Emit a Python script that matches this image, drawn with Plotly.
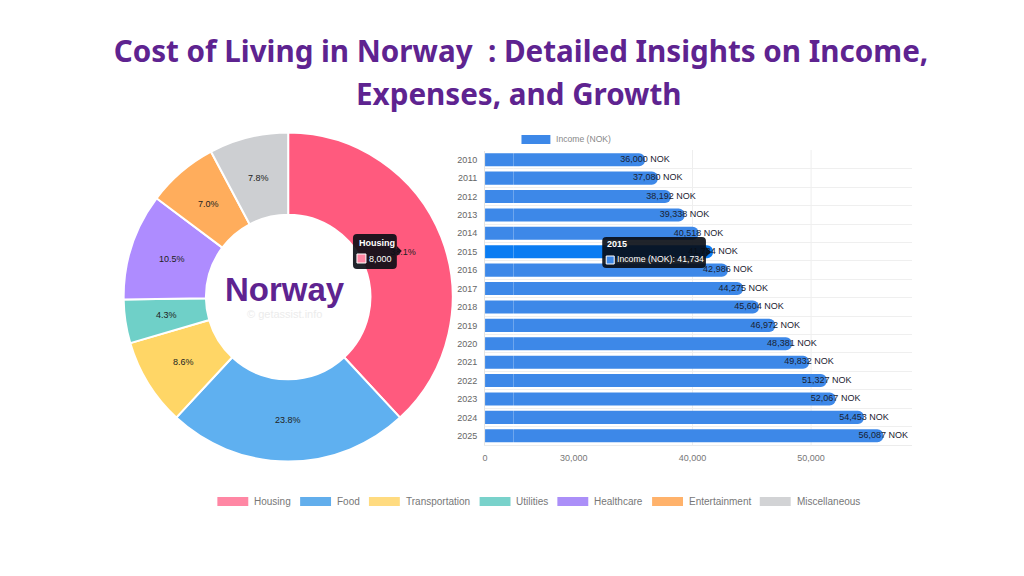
import math

import plotly.graph_objects as go

categories = ["Housing", "Food", "Transportation", "Utilities", "Healthcare", "Entertainment", "Miscellaneous"]
amounts = [8000, 5000, 1800, 900, 2200, 1470, 1630]

years = ["2010", "2011", "2012", "2013", "2014", "2015", "2016", "2017",
         "2018", "2019", "2020", "2021", "2022", "2023", "2024", "2025"]
income = [36000, 37080, 38192, 39338, 40518, 41734, 42986, 44275,
          45604, 46972, 48381, 49832, 51327, 52067, 54453, 56087]

income_ticks = ["0", "30,000", "40,000", "50,000"]

slice_colors = ["#FF5A7E", "#5FB0F0", "#FFD666", "#6FD0C8", "#AE8CFF", "#FFAD5C", "#CDCFD2"]
legend_colors = ["#FF87A4", "#62AEEC", "#FFDB80", "#79D2CB", "#AB8FF8", "#FFB26B", "#D2D3D5"]
bar_colors = ["#0A7CF2" if y == "2015" else "#3D88E8" for y in years]

W, H = 1024, 576
purple = "#5E2390"
total = sum(amounts)
percents = [f"{a / total * 100:.1f}%" for a in amounts]


# the figure lands about 2px right of where paper coords say
def px(v):
    return (v - 2) / W


def py(v):
    return 1 - v / H


fig = go.Figure()

# only the housing label stays in the trace so the tooltip shape can cover it
fig.add_trace(go.Pie(
    labels=categories,
    values=amounts,
    hole=0.5,
    sort=False,
    direction="clockwise",
    rotation=0,
    marker=dict(colors=slice_colors, line=dict(color="white", width=2)),
    text=[percents[0]] + [""] * (len(amounts) - 1),
    textinfo="text",
    textposition="inside",
    insidetextorientation="horizontal",
    textfont=dict(family="Liberation Sans", size=9, color="#222222"),
    domain=dict(x=[px(123), px(453)], y=[py(462), py(132)]),
    showlegend=False,
))

fig.add_trace(go.Bar(
    x=income,
    y=years,
    orientation="h",
    marker=dict(color=bar_colors, line=dict(width=0)),
    showlegend=False,
))

# labels sit centred on the bar ends, not outside them
fig.add_trace(go.Scatter(
    x=income,
    y=years,
    mode="text",
    text=[f"{v:,} NOK" for v in income],
    textposition="middle center",
    textfont=dict(family="Liberation Sans", size=9, color="#1a2230"),
    showlegend=False,
))

fig.update_layout(
    width=W,
    height=H,
    margin=dict(l=0, r=0, t=0, b=0),
    paper_bgcolor="white",
    plot_bgcolor="white",
    barcornerradius=6,
    bargap=0.29,
    title=dict(
        text="Cost of Living in Norway \u00a0: Detailed Insights on Income,",
        font=dict(family="Noto Sans", size=29.6, color=purple, weight="bold"),
        x=521 / W,
        xanchor="center",
        y=py(52),
        yanchor="middle",
    ),
    xaxis=dict(
        domain=[px(485.5), px(913.5)],
        range=[22520, 58490],
        tickvals=[22520, 30000, 40000, 50000],
        ticktext=income_ticks,
        showgrid=False,
        zeroline=False,
        showline=True,
        linecolor="#ececec",
        ticklabelstandoff=4,
        tickfont=dict(family="Liberation Sans", size=9, color="#777777"),
    ),
    yaxis=dict(
        domain=[py(445), py(150.5)],
        type="category",
        range=[15.5, -0.5],
        tickson="boundaries",
        ticks="",
        showgrid=True,
        gridcolor="#efefef",
        showline=True,
        linecolor="#e4e4e4",
        ticklabelstandoff=5,
        tickfont=dict(family="Liberation Sans", size=9, color="#666666"),
    ),
    font=dict(family="Liberation Sans"),
)

shapes = []
notes = []

# vertical grid, only a few lines show in the picture
for v in [40000, 50000]:
    shapes.append(dict(type="line", xref="x", yref="paper", x0=v, x1=v, y0=py(445), y1=py(150),
                       line=dict(color="#eeeeee", width=1), layer="below"))
shapes.append(dict(type="line", xref="paper", yref="paper", x0=px(514), x1=px(514), y0=py(445), y1=py(150),
                   line=dict(color="rgba(255,255,255,0.25)", width=1)))


def label(x, y, text, size=10, color="#777777", anchor="left", bold=False, font="Liberation Sans"):
    notes.append(dict(xref="paper", yref="paper", x=px(x), y=py(y), text=f"<b>{text}</b>" if bold else text,
                      showarrow=False, xanchor=anchor, yanchor="middle",
                      font=dict(family=font, size=size, color=color)))


def box(x0, y0, x1, y1, fill, line=None):
    shapes.append(dict(type="rect", xref="paper", yref="paper", x0=px(x0), x1=px(x1), y0=py(y0), y1=py(y1),
                       fillcolor=fill, line=dict(color=line or fill, width=1 if line else 0)))


def tooltip(x0, y0, x1, y1):
    r = 4
    path = (f"M {px(x0 + r)} {py(y0)} L {px(x1 - r)} {py(y0)} Q {px(x1)} {py(y0)} {px(x1)} {py(y0 + r)} "
            f"L {px(x1)} {py(y1 - r)} Q {px(x1)} {py(y1)} {px(x1 - r)} {py(y1)} "
            f"L {px(x0 + r)} {py(y1)} Q {px(x0)} {py(y1)} {px(x0)} {py(y1 - r)} "
            f"L {px(x0)} {py(y0 + r)} Q {px(x0)} {py(y0)} {px(x0 + r)} {py(y0)} Z")
    shapes.append(dict(type="path", xref="paper", yref="paper", path=path,
                       fillcolor="rgba(8,12,20,0.9)", line=dict(width=0)))


def caret(x, y):
    path = f"M {px(x)} {py(y - 5)} L {px(x + 5)} {py(y)} L {px(x)} {py(y + 5)} Z"
    shapes.append(dict(type="path", xref="paper", yref="paper", path=path,
                       fillcolor="rgba(8,12,20,0.9)", line=dict(width=0)))


# second title line sits further down than plotly's line height allows
label(520, 94, "Expenses, and Growth", size=29.6, color=purple, anchor="center", bold=True, font="Noto Sans")

# slice labels at mid ring, plotly's own inside placement drifts on the thin slices
seen = amounts[0]
for a, pct in zip(amounts[1:], percents[1:]):
    ang = 2 * math.pi * (seen + a / 2) / total
    label(288 + 123 * math.sin(ang), 297 - 123 * math.cos(ang), pct, size=9, color="#222222", anchor="center")
    seen += a

# centre of the donut
label(285, 289, "Norway", size=33, color=purple, anchor="center", bold=True)
label(284, 314, "© getassist.info", size=11, color="#ececec", anchor="center")

# legend under the charts
legend_x = [217, 300, 369, 480, 558, 653, 761]
for name, col, lx in zip(categories, legend_colors, legend_x):
    box(lx, 497, lx + 31, 506, col)
    label(lx + 35, 501, name)

box(522, 135, 551, 144, "#3D88E8")
label(555, 139, "Income (NOK)", size=8.6, color="#888888")

# hover boxes frozen in the screenshot
tooltip(353, 234, 397, 269)
caret(397, 251)
box(357, 254, 366, 263, "#FF87A4", "white")
label(357, 243, "Housing", size=9, color="white", bold=True)
label(367, 259, f"{amounts[0]:,}", size=9, color="white")

tooltip(603, 237, 707, 268)
caret(707, 252)
box(607, 256, 615, 264, "#3D88E8", "white")
label(606, 244, years[5], size=9, color="white", bold=True)
label(616, 259, f"Income (NOK): {income[5]:,}", size=8.7, color="white")

fig.update_layout(shapes=shapes, annotations=notes)

# the page's default body margin would push the figure off by 8px
fig.write_html("out.html", config={"displayModeBar": False}, post_script="document.body.style.margin = '0';")
